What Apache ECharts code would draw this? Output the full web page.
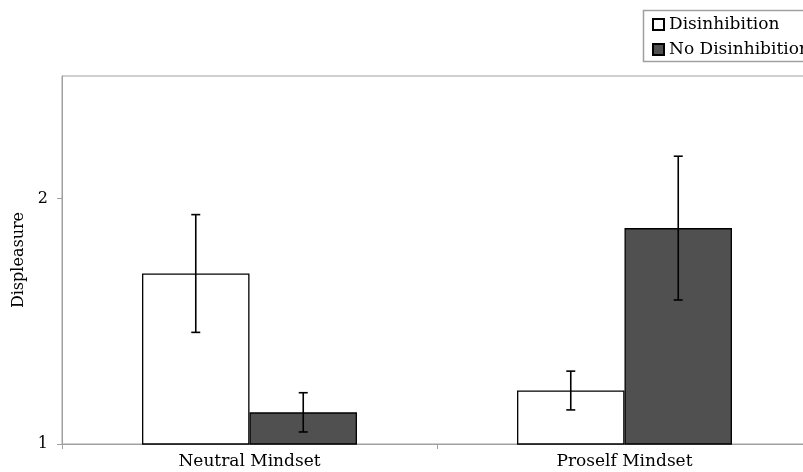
<!DOCTYPE html>
<html>
<head>
<meta charset="utf-8">
<script src="https://cdn.jsdelivr.net/npm/echarts@6/dist/echarts.min.js"></script>
<style>html,body{margin:0;padding:0;background:#fff;}#c{width:803px;height:472px;}</style>
</head>
<body>
<div id="c"></div>
<script>
var categories = ['Neutral Mindset', 'Proself Mindset'];
var seriesNames = ['Disinhibition', 'No Disinhibition'];
var disinhibition = [1.695, 1.218];
var noDisinhibition = [1.129, 1.88];
var disinhibitionErr = [0.24, 0.079];
var noDisinhibitionErr = [0.08, 0.293];
var yTicks = [1, 2];

var FONT = 'DejaVu Serif';
var chart = echarts.init(document.getElementById('c'));

function errSeries(values, errs, side) {
  var data = values.map(function (v, i) { return [i, v - errs[i], v + errs[i]]; });
  return {
    type: 'custom',
    silent: true,
    z: 10,
    data: data,
    renderItem: function (params, api) {
      var idx = api.value(0);
      var lo = api.coord([idx, api.value(1)]);
      var hi = api.coord([idx, api.value(2)]);
      var bw = api.size([1, 0])[0] * 0.2866;
      var x = lo[0] + side * bw / 2;
      var cap = 4.5;
      var st = { stroke: '#000', lineWidth: 1.6 };
      return {
        type: 'group',
        children: [
          { type: 'line', shape: { x1: x, y1: lo[1], x2: x, y2: hi[1] }, style: st },
          { type: 'line', shape: { x1: x - cap, y1: lo[1], x2: x + cap, y2: lo[1] }, style: st },
          { type: 'line', shape: { x1: x - cap, y1: hi[1], x2: x + cap, y2: hi[1] }, style: st }
        ]
      };
    }
  };
}

chart.setOption({
  animation: false,
  backgroundColor: '#fff',
  textStyle: { fontFamily: FONT },
  grid: { left: 62, top: 76, bottom: 28, width: 750, outerBoundsMode: 'none', containLabel: false, show: true, borderColor: '#a0a0a0', borderWidth: 1 },
  graphic: [{
    type: 'rect',
    shape: { x: 643.5, y: 10.5, width: 200, height: 51 },
    style: { fill: 'none', stroke: '#a0a0a0', lineWidth: 1.5 },
    silent: true
  }],
  legend: {
    data: seriesNames,
    orient: 'vertical',
    left: 652,
    top: 16,
    padding: 0,
    itemGap: 8,
    itemWidth: 11,
    itemHeight: 11,
    icon: 'rect',
    textStyle: { fontFamily: FONT, fontSize: 17, color: '#000', overflow: 'none' }
  },
  xAxis: {
    type: 'category',
    data: categories,
    axisLine: { lineStyle: { color: '#a0a0a0', width: 1 } },
    axisTick: { show: true, length: 5, lineStyle: { color: '#a0a0a0' } },
    axisLabel: { fontFamily: FONT, fontSize: 17, color: '#000', margin: 9 }
  },
  yAxis: {
    type: 'value',
    min: 1,
    max: 2.5,
    interval: 1,
    name: 'Displeasure',
    nameLocation: 'middle',
    nameGap: 35,
    nameTextStyle: { fontFamily: FONT, fontSize: 16, color: '#000' },
    splitLine: { show: false },
    axisLine: { show: true, lineStyle: { color: '#a0a0a0', width: 1 } },
    axisTick: { show: true, length: 5, customValues: yTicks, lineStyle: { color: '#a0a0a0' } },
    axisLabel: { fontFamily: FONT, fontSize: 16, color: '#000', margin: 14, customValues: yTicks }
  },
  series: [
    {
      name: seriesNames[0], type: 'bar', data: disinhibition,
      barWidth: '28.66%', barGap: '0%',
      itemStyle: { color: '#ffffff', borderColor: '#000', borderWidth: 1.3 }
    },
    {
      name: seriesNames[1], type: 'bar', data: noDisinhibition,
      barWidth: '28.66%', barGap: '0%',
      itemStyle: { color: '#505050', borderColor: '#000', borderWidth: 1.3 }
    },
    errSeries(disinhibition, disinhibitionErr, -1),
    errSeries(noDisinhibition, noDisinhibitionErr, 1)
  ]
});
</script>
</body>
</html>
